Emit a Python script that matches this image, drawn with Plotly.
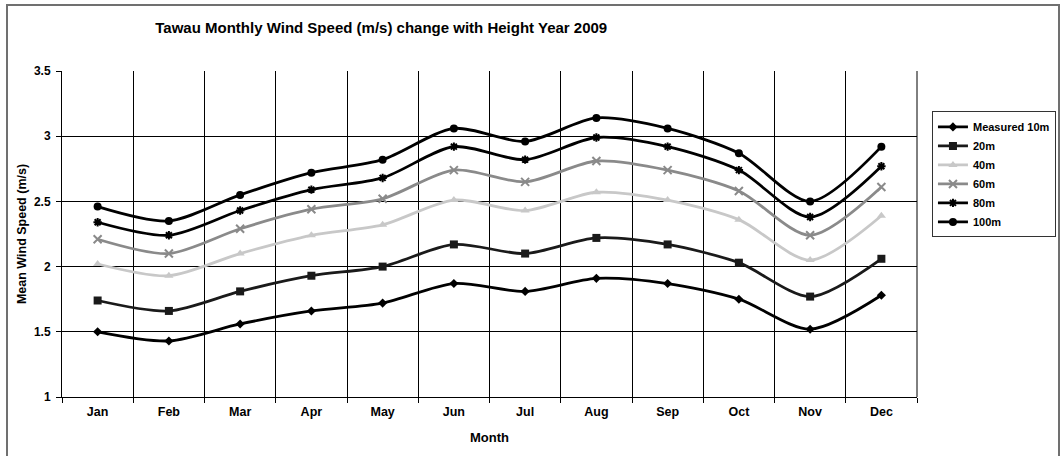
import plotly.graph_objects as go

months = ["Jan", "Feb", "Mar", "Apr", "May", "Jun", "Jul", "Aug", "Sep", "Oct", "Nov", "Dec"]
series_names = ["Measured 10m", "20m", "40m", "60m", "80m", "100m"]
h10 = [1.50, 1.43, 1.56, 1.66, 1.72, 1.87, 1.81, 1.91, 1.87, 1.75, 1.52, 1.78]
h20 = [1.74, 1.66, 1.81, 1.93, 2.00, 2.17, 2.10, 2.22, 2.17, 2.03, 1.77, 2.06]
h40 = [2.02, 1.93, 2.10, 2.24, 2.32, 2.51, 2.43, 2.57, 2.51, 2.36, 2.05, 2.39]
h60 = [2.21, 2.10, 2.29, 2.44, 2.52, 2.74, 2.65, 2.81, 2.74, 2.58, 2.24, 2.61]
h80 = [2.34, 2.24, 2.43, 2.59, 2.68, 2.92, 2.82, 2.99, 2.92, 2.74, 2.38, 2.77]
h100 = [2.46, 2.35, 2.55, 2.72, 2.82, 3.06, 2.96, 3.14, 3.06, 2.87, 2.50, 2.92]
y_ticks = [1, 1.5, 2, 2.5, 3, 3.5]

values = [h10, h20, h40, h60, h80, h100]
colors = ["#000000", "#1a1a1a", "#c8c8c8", "#8a8a8a", "#000000", "#000000"]
symbols = ["diamond", "square", "triangle-up", "x-thin-open", "asterisk-open", "circle"]
sizes = [7, 8, 8, 8, 7, 8]

FF = "Liberation Sans, Arial, sans-serif"


def bfont(size=11):
    return dict(size=size, family=FF, color="black", weight="bold")


fig = go.Figure()
for name, vals, c, s, sz in zip(series_names, values, colors, symbols, sizes):
    fig.add_trace(go.Scatter(
        x=months, y=vals, name=name, mode="lines+markers",
        line=dict(color=c, width=2.8, shape="spline", smoothing=0.8),
        marker=dict(symbol=s, size=sz, color=c, line=dict(color=c, width=2 if "open" in s else 0)),
    ))

fig.update_layout(
    width=1062, height=456,
    margin=dict(l=62, r=145, t=71, b=59, autoexpand=False),
    paper_bgcolor="white", plot_bgcolor="white",
    font=bfont(11),
    title=dict(text="Tawau Monthly Wind Speed (m/s) change with Height Year 2009",
               x=0.359, xanchor="center", y=0.94, yanchor="middle", xref="container", yref="container",
               font=bfont(15)),
    showlegend=True,
    legend=dict(x=1.0175, xanchor="left", y=0.876, yanchor="top",
                bordercolor="#333333", borderwidth=1, bgcolor="white",
                font=bfont(11), tracegroupgap=0, itemwidth=30),
)
fig.update_xaxes(
    type="category", tickson="boundaries", showgrid=True, gridcolor="black", gridwidth=1,
    showline=True, linecolor="black", linewidth=1, mirror=False,
    ticks="outside", ticklen=5, tickcolor="black", ticklabelstandoff=3,
    tickfont=bfont(12.5),
    title=dict(text="Month", font=bfont(13), standoff=14),
    range=[-0.5, 11.5],
)
fig.update_yaxes(
    range=[1, 3.5], tickvals=y_ticks, ticktext=[f"{v:g}" for v in y_ticks],
    showgrid=True, gridcolor="black", gridwidth=1,
    showline=True, linecolor="black", linewidth=1, zeroline=False,
    ticks="outside", ticklen=5, tickcolor="black", ticklabelstandoff=3,
    tickfont=bfont(12),
    title=dict(text="Mean Wind Speed (m/s)", font=bfont(12.5), standoff=4),
)
# outer chart border
fig.add_shape(type="rect", xref="paper", yref="paper",
              x0=(7 - 62) / 855, x1=(1059 - 62) / 855, y0=(397 - 460) / 326, y1=(397 - 5) / 326,
              line=dict(color="#707070", width=2), fillcolor="rgba(0,0,0,0)", layer="below")
# right border of plot area
fig.add_shape(type="line", xref="paper", yref="paper", x0=1, x1=1, y0=0, y1=1,
              line=dict(color="black", width=1))

fig.write_html("out.html", config={"displayModeBar": False},
               post_script="document.body.style.margin='0';")
